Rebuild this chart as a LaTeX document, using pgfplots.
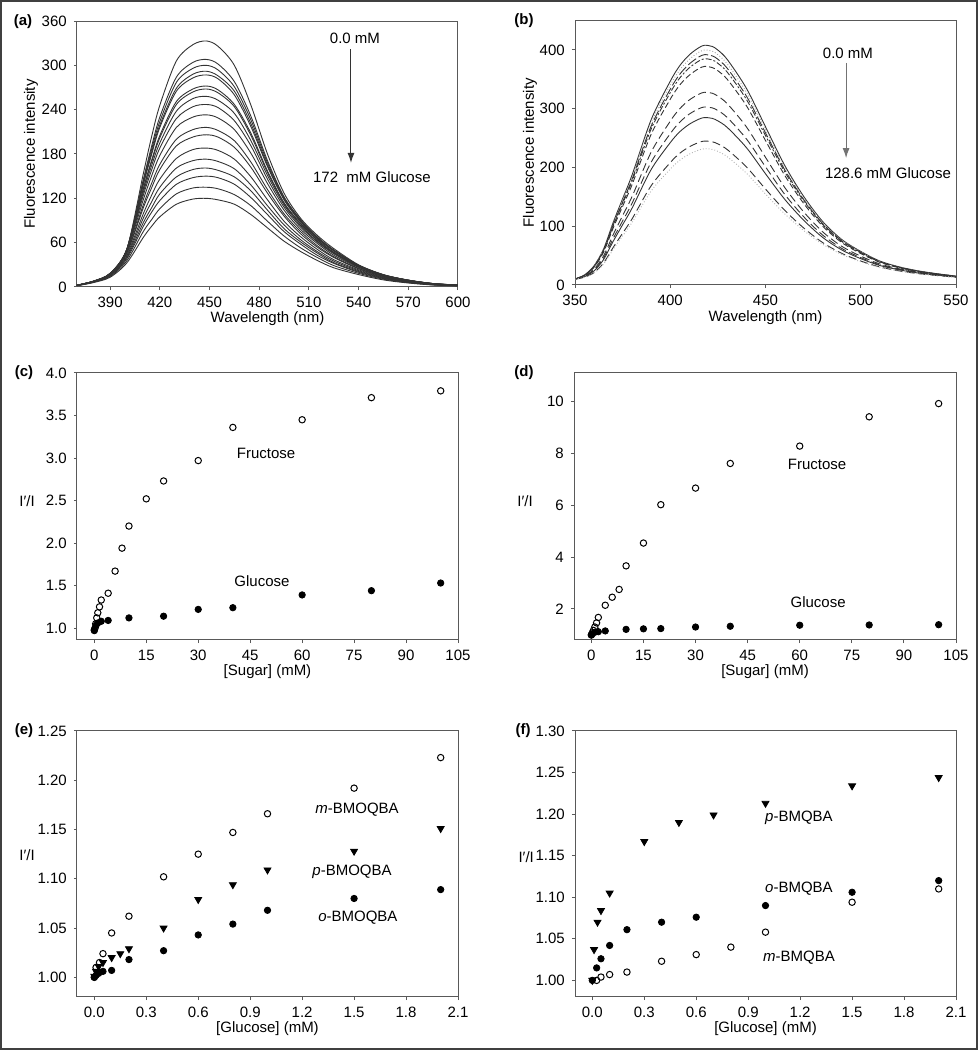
\documentclass[border=0pt]{standalone}
\usepackage{fontspec}
\setmainfont{Liberation Sans}
\usepackage{pgfplots}
\usepackage{pgfplotstable}
\pgfplotsset{compat=1.18}
\usetikzlibrary{arrows.meta}

% (a) emission spectra, 0 -> 172 mM glucose
\pgfplotstableread{
wl  c1 c2 c3 c4 c5 c6 c7 c8 c9 c10 c11 c12 c13 c14 c15 c16 c17 c18
370 2.0 2.2 2.2 2.3 2.3 2.3 2.4 2.4 2.4 2.4 2.4 2.3 2.3 2.2 2.1 2.1 1.9 1.8
380 6.7 7.3 7.4 7.5 7.6 7.8 7.8 7.9 7.9 7.9 7.9 7.8 7.6 7.4 7.1 6.9 6.5 6.0
390 16.7 17.6 17.8 18.0 18.1 18.3 18.3 18.4 18.3 18.2 17.9 17.7 17.1 16.5 15.9 15.2 14.3 13.2
400 50.0 50.5 50.6 50.5 50.5 50.2 50.0 49.6 49.0 48.1 46.6 45.6 43.6 41.6 39.8 38.0 35.3 32.4
410 153 145 143 140 138 133 132 128 124 118 111 107 99 93 87 82 75 67
415 203 190 186 182 179 171 169 164 158 150 140 134 124 115 107 101 91 82
420 246 230 224 219 216 205 202 195 188 178 166 159 146 135 126 117 106 95
430 306 284 277 269 265 251 247 238 228 216 200 191 174 161 149 139 126 112
440 328 304 296 288 283 268 264 255 244 230 213 203 186 171 159 148 134 119
448 333 308 300 292 287 272 268 258 247 233 216 206 188 173 161 150 135 120
455 326 302 294 286 282 267 263 253 243 229 212 203 185 170 158 148 133 118
465 300 278 271 265 260 247 244 235 225 213 198 189 173 160 149 139 125 112
475 246 231 226 221 217 208 205 198 191 181 169 162 149 138 130 121 110 98
485 180 171 168 165 163 157 155 151 146 140 132 127 118 110 104 98 89 80
495 127 122 121 119 118 114 113 111 108 104 99 96 89 84 79 75 69 62
505 93 91 90 89 88 86 85 83 81 78 75 72 68 64 61 58 53 48
515 70 68 67 66 66 64 64 62 61 59 56 54 51 48 46 43 40 36
525 52 50 50 49 49 47 47 46 45 43 41 40 37 35 33 32 29 26
540 30 29.5 29.3 29.1 28.9 28.4 28.2 27.7 27.2 26.5 25.3 24.6 23.3 22.1 21.0 19.9 18.5 16.8
555 16.7 16.5 16.4 16.3 16.3 15.9 15.9 15.6 15.4 15.0 14.4 14.0 13.2 12.6 12.0 11.4 10.6 9.6
570 9.3 9.2 9.2 9.2 9.1 8.9 8.9 8.7 8.6 8.4 8.0 7.9 7.5 7.0 6.7 6.4 5.9 5.4
585 4.7 4.6 4.6 4.5 4.5 4.4 4.5 4.3 4.3 4.2 3.9 3.9 3.6 3.4 3.3 3.1 2.9 2.7
600 2.7 2.6 2.6 2.5 2.5 2.5 2.4 2.5 2.4 2.3 2.2 2.1 2.0 1.9 1.8 1.7 1.6 1.5
}\tabA

% (b) emission spectra, 0 -> 128.6 mM glucose
\pgfplotstableread{
wl  c1 c2 c3 c4 c5 c6 c7 c8 c9 c10
350 10.2 10.2 10.2 10.2 10.2 10.1 10.1 10.1 10.0 10.0
355 17.1 16.9 16.8 16.6 16.2 15.2 14.6 14.2 13.2 12.9
360 32.6 32.1 31.6 31.0 30.2 27.0 25.3 24.0 21.2 20.4
365 61.2 60.0 58.9 57.9 55.9 49.5 45.9 43.3 37.5 35.5
370 106.1 104.0 101.9 100.1 96.7 85.3 78.8 74.1 63.7 60.3
375 146.9 144.0 141.1 138.6 133.9 118.1 109.1 102.6 88.2 83.5
380 187.7 184.0 180.3 177.1 171.1 150.9 139.4 131.1 112.7 106.7
390 281.5 276.0 270.5 265.7 256.7 226.3 209.1 196.7 169.1 160.1
400 346.8 340.0 333.2 327.3 316.2 278.8 257.6 242.3 208.3 197.2
405 373.3 366.0 358.7 352.3 340.4 300.1 277.2 260.8 224.2 212.3
410 391.7 384.0 376.3 369.6 357.1 314.9 290.9 273.6 235.2 222.7
415 403.9 396.0 388.1 381.2 368.3 324.7 300.0 282.2 242.6 229.7
418 408 400 392 385 372 328 303 285 245 232
422 406.0 398.0 390.0 383.1 370.1 326.4 301.5 283.6 243.8 230.8
425 399.8 392.0 384.2 377.3 364.6 321.4 296.9 279.3 240.1 227.4
430 383.5 376.0 368.5 361.9 349.7 308.3 284.8 267.9 230.3 218.1
440 334.6 328.0 321.4 315.7 305.0 269.0 248.5 233.7 200.9 190.2
450 269.3 264.1 258.9 254.3 245.9 217.3 201.1 189.3 163.3 154.9
460 204.0 200.2 196.5 193.2 187.1 166.4 154.7 146.2 127.4 121.3
470 151.0 148.3 145.6 143.4 139.0 124.6 116.3 110.4 97.2 92.8
480 108.1 106.4 104.6 103.0 100.2 90.5 85.0 81.0 72.2 69.4
490 77.5 76.4 75.2 74.2 72.3 65.9 62.3 59.7 53.9 52.0
500 57.1 56.3 55.5 54.8 53.5 49.1 46.6 44.8 40.8 39.5
510 40.8 40.3 39.8 39.4 38.6 35.8 34.3 33.2 30.7 29.9
520 31.0 30.7 30.3 30.1 29.5 27.6 26.6 25.9 24.1 23.6
530 24.1 23.8 23.6 23.4 23.0 21.8 21.1 20.5 19.4 19.0
540 19.2 19.0 18.8 18.7 18.5 17.6 17.1 16.8 16.1 15.8
550 15.1 15.0 14.9 14.8 14.7 14.1 13.8 13.6 13.2 13.0
}\tabB

\pgfplotsset{
  panel/.style={
    scale only axis, anchor=south west,
    axis line style={draw=black!65, line width=0.5pt},
    tick align=outside, xtick pos=left, ytick pos=left,
    major tick length=1.6pt,
    tick style={black!65, line width=0.5pt},
    tick label style={font=\fontsize{7.5}{9}\selectfont},
    label style={font=\fontsize{7.5}{9}\selectfont},
    /pgf/number format/assume math mode=true,
    scaled ticks=false,
  },
  spec/.style={black!80, line width=0.45pt, smooth, tension=0.5},
  open/.style={only marks, mark=o, mark size=1.6pt, mark options={black, line width=0.5pt}},
  full/.style={only marks, mark=*, mark size=1.6pt, mark options={black}},
  tri/.style={only marks, mark=triangle*, mark size=2pt, mark options={black, rotate=180}},
}

\begin{document}
\begin{tikzpicture}[font=\fontsize{7.5}{9}\selectfont]
\useasboundingbox (0,0) rectangle (489pt,525pt);
\draw[black!75, line width=1pt] (0.5pt,0.5pt) rectangle (488.5pt,524.5pt);

\node[font=\fontsize{7.5}{9}\selectfont\bfseries] at (11.5pt,514pt) {(a)};
\node[font=\fontsize{7.5}{9}\selectfont\bfseries] at (262pt,514.5pt) {(b)};
\node[font=\fontsize{7.5}{9}\selectfont\bfseries] at (12pt,338.5pt) {(c)};
\node[font=\fontsize{7.5}{9}\selectfont\bfseries] at (262pt,338.5pt) {(d)};
\node[font=\fontsize{7.5}{9}\selectfont\bfseries] at (12pt,159.5pt) {(e)};
\node[font=\fontsize{7.5}{9}\selectfont\bfseries] at (261.5pt,159.5pt) {(f)};

% ---- (a)
\begin{axis}[panel, at={(38.5pt,381.5pt)}, width=190.5pt, height=133pt,
  xmin=370, xmax=600, ymin=0, ymax=360,
  xtick={390,420,...,600}, ytick={0,60,...,360},
  xlabel={Wavelength (nm)}, ylabel={Fluorescence intensity},
  xlabel style={at={(axis description cs:0.5,-0.12)}, anchor=center},
  ylabel style={at={(axis description cs:-0.121,0.5)}, anchor=center},
]
\pgfplotsinvokeforeach{1,...,18}{\addplot[spec] table[x=wl, y=c#1] {\tabA};}
\node at (axis cs:537.8,337) {0.0 mM};
\draw[black!80, line width=0.5pt, -{Latex[length=5pt,width=3.5pt]}] (axis cs:535.4,322) -- (axis cs:535.4,168);
\node at (axis cs:548,149) {172\ \ mM Glucose};
\end{axis}

% ---- (b)
\begin{axis}[panel, at={(287.5pt,382.5pt)}, width=190.5pt, height=132.2pt,
  xmin=350, xmax=550, ymin=0, ymax=450,
  xtick={350,400,...,550}, ytick={0,100,...,400},
  xlabel={Wavelength (nm)}, ylabel={Fluorescence intensity},
  xlabel style={at={(axis description cs:0.5,-0.123)}, anchor=center},
  ylabel style={at={(axis description cs:-0.118,0.5)}, anchor=center},
]
\addplot[spec] table[x=wl, y=c1] {\tabB};
\addplot[spec, black!35, densely dotted] table[x=wl, y=c2] {\tabB};
\addplot[spec, dash pattern=on 5pt off 1.5pt] table[x=wl, y=c3] {\tabB};
\addplot[spec, dash pattern=on 3pt off 1pt on 1pt off 1pt] table[x=wl, y=c4] {\tabB};
\addplot[spec, dash pattern=on 3pt off 1.5pt] table[x=wl, y=c5] {\tabB};
\addplot[spec, dash pattern=on 4pt off 2pt] table[x=wl, y=c6] {\tabB};
\addplot[spec, dash pattern=on 4pt off 2pt] table[x=wl, y=c7] {\tabB};
\addplot[spec] table[x=wl, y=c8] {\tabB};
\addplot[spec, dash pattern=on 4pt off 2pt] table[x=wl, y=c9] {\tabB};
\addplot[spec, black!30, densely dotted] table[x=wl, y=c10] {\tabB};
\node at (axis cs:493.3,395) {0.0 mM};
\draw[black!55, line width=0.5pt, -{Latex[length=5pt,width=3.5pt]}] (axis cs:492.3,378) -- (axis cs:492.3,216);
\node at (axis cs:514.3,190.6) {128.6 mM Glucose};
\end{axis}

% ---- (c)
\begin{axis}[panel, at={(38.5pt,205pt)}, width=190.5pt, height=133.5pt,
  xmin=-5, xmax=105, ymin=0.86, ymax=4.0,
  xtick={0,15,...,105}, ytick={1.0,1.5,2.0,2.5,3.0,3.5,4.0},
  yticklabel style={/pgf/number format/.cd, fixed, fixed zerofill, precision=1},
  xlabel={[Sugar] (mM)}, ylabel={I′/I},
  xlabel style={at={(axis description cs:0.5,-0.118)}, anchor=center},
  ylabel style={rotate=-90, at={(axis description cs:-0.131,0.52)}, anchor=center},
]
\addplot[open] coordinates {
  (0,0.98) (0.2,1.00) (0.4,1.05) (0.7,1.12) (1,1.18) (1.5,1.25) (2,1.33) (4,1.41)
  (6,1.67) (8,1.94) (10,2.20) (15,2.52) (20,2.73) (30,2.97) (40,3.36) (60,3.45)
  (80,3.71) (100,3.79)};
\addplot[full] coordinates {
  (0,0.97) (0.5,1.03) (1,1.06) (2,1.08) (4,1.09) (10,1.12) (20,1.14) (30,1.22)
  (40,1.24) (60,1.39) (80,1.44) (100,1.53)};
\node at (axis cs:49.6,3.06) {Fructose};
\node at (axis cs:48.4,1.55) {Glucose};
\end{axis}

% ---- (d)
\begin{axis}[panel, at={(287pt,205pt)}, width=191pt, height=133.5pt,
  xmin=-5, xmax=105, ymin=0.8, ymax=11.1,
  xtick={0,15,...,105}, ytick={2,4,6,8,10},
  xlabel={[Sugar] (mM)}, ylabel={I′/I},
  xlabel style={at={(axis description cs:0.5,-0.118)}, anchor=center},
  ylabel style={rotate=-90, at={(axis description cs:-0.128,0.52)}, anchor=center},
]
\addplot[open] coordinates {
  (0,0.99) (0.3,1.08) (0.6,1.17) (1,1.30) (1.5,1.46) (2,1.67) (4,2.14) (6,2.45)
  (8,2.75) (10,3.66) (15,4.54) (20,6.02) (30,6.66) (40,7.61) (60,8.28) (80,9.41)
  (100,9.92)};
\addplot[full] coordinates {
  (0,1.00) (0.3,1.04) (1,1.10) (2,1.12) (4,1.15) (10,1.21) (15,1.23) (20,1.24)
  (30,1.30) (40,1.33) (60,1.37) (80,1.38) (100,1.39)};
\node at (axis cs:65,7.58) {Fructose};
\node at (axis cs:65.3,2.27) {Glucose};
\end{axis}

% ---- (e)
\begin{axis}[panel, at={(38.5pt,26.5pt)}, width=190.5pt, height=133pt,
  xmin=-0.1, xmax=2.1, ymin=0.98, ymax=1.25,
  xtick={0,0.3,0.6,0.9,1.2,1.5,1.8,2.1}, ytick={1.00,1.05,1.10,1.15,1.20,1.25},
  xticklabel style={/pgf/number format/.cd, fixed, fixed zerofill, precision=1},
  yticklabel style={/pgf/number format/.cd, fixed, fixed zerofill, precision=2},
  xlabel={[Glucose] (mM)}, ylabel={I′/I},
  xlabel style={at={(axis description cs:0.5,-0.12)}, anchor=center},
  ylabel style={rotate=-90, at={(axis description cs:-0.131,0.534)}, anchor=center},
]
\addplot[open] coordinates {
  (0,1.000) (0.01,1.010) (0.03,1.015) (0.05,1.024) (0.1,1.045) (0.2,1.062)
  (0.4,1.102) (0.6,1.125) (0.8,1.147) (1.0,1.166) (1.5,1.192) (2.0,1.223)};
\addplot[tri] coordinates {
  (0,1.001) (0.01,1.006) (0.025,1.011) (0.05,1.015) (0.1,1.020) (0.15,1.024)
  (0.2,1.029) (0.4,1.050) (0.6,1.079) (0.8,1.094) (1.0,1.109) (1.5,1.128) (2.0,1.151)};
\addplot[full] coordinates {
  (0,1.000) (0.01,1.002) (0.025,1.004) (0.05,1.006) (0.1,1.007) (0.2,1.018)
  (0.4,1.027) (0.6,1.043) (0.8,1.054) (1.0,1.068) (1.5,1.080) (2.0,1.089)};
\node at (axis cs:1.517,1.170) {\textit{m}-BMOQBA};
\node at (axis cs:1.488,1.107) {\textit{p}-BMOQBA};
\node at (axis cs:1.522,1.061) {\textit{o}-BMOQBA};
\end{axis}

% ---- (f)
\begin{axis}[panel, at={(287.5pt,26.5pt)}, width=190.5pt, height=133pt,
  xmin=-0.1, xmax=2.1, ymin=0.98, ymax=1.30,
  xtick={0,0.3,0.6,0.9,1.2,1.5,1.8,2.1}, ytick={1.00,1.05,1.10,1.15,1.20,1.25,1.30},
  xticklabel style={/pgf/number format/.cd, fixed, fixed zerofill, precision=1},
  yticklabel style={/pgf/number format/.cd, fixed, fixed zerofill, precision=2},
  xlabel={[Glucose] (mM)}, ylabel={I′/I},
  xlabel style={at={(axis description cs:0.5,-0.12)}, anchor=center},
  ylabel style={rotate=-90, at={(axis description cs:-0.128,0.526)}, anchor=center},
]
\addplot[tri] coordinates {
  (0,1.000) (0.01,1.037) (0.03,1.070) (0.05,1.084) (0.1,1.105) (0.3,1.167)
  (0.5,1.190) (0.7,1.199) (1.0,1.213) (1.5,1.234) (2.0,1.244)};
\addplot[full] coordinates {
  (0,1.000) (0.025,1.015) (0.05,1.026) (0.1,1.042) (0.2,1.061) (0.4,1.070)
  (0.6,1.076) (1.0,1.090) (1.5,1.106) (2.0,1.120)};
\addplot[open] coordinates {
  (0.025,1.000) (0.05,1.004) (0.1,1.007) (0.2,1.010) (0.4,1.023) (0.6,1.031)
  (0.8,1.040) (1.0,1.058) (1.5,1.094) (2.0,1.110)};
\node at (axis cs:1.193,1.196) {\textit{p}-BMQBA};
\node at (axis cs:1.193,1.110) {\textit{o}-BMQBA};
\node at (axis cs:1.193,1.0275) {\textit{m}-BMQBA};
\end{axis}
\end{tikzpicture}
\end{document}
